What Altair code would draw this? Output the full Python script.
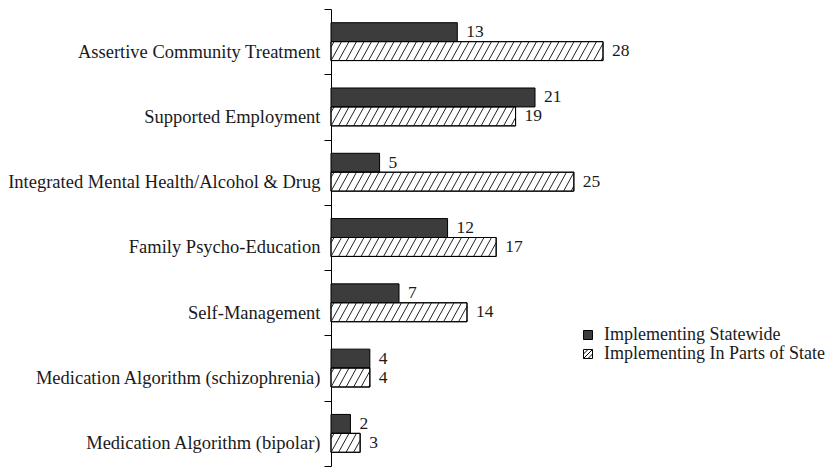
import json
import altair as alt
import pandas as pd

# ---- data ----
CATEGORIES = [
    "Assertive Community Treatment",
    "Supported Employment",
    "Integrated Mental Health/Alcohol & Drug",
    "Family Psycho-Education",
    "Self-Management",
    "Medication Algorithm (schizophrenia)",
    "Medication Algorithm (bipolar)",
]
STATEWIDE = [13, 21, 5, 12, 7, 4, 2]
PARTS = [28, 19, 25, 17, 14, 4, 3]
SERIES = ["Implementing Statewide", "Implementing In Parts of State"]

# ---- layout / style ----
WIDTH, HEIGHT = 272, 457
XMAX = 28
PAD = 0.21            # empty fraction of each band above/below the bar pair
DARK = "#3c3c3c"
FONT = "Liberation Serif"
TXT = "#1a1a1a"
N = len(CATEGORIES)

rows = []
for i, (c, s, p) in enumerate(zip(CATEGORIES, STATEWIDE, PARTS)):
    rows.append(dict(cat=c, series=SERIES[0], value=s, zero=0,
                     y=i + PAD, y2=i + 0.5, ymid=i + (PAD + 0.5) / 2))
    rows.append(dict(cat=c, series=SERIES[1], value=p, zero=0,
                     y=i + 0.5, y2=i + 1 - PAD, ymid=i + (1.5 - PAD) / 2))
bars = pd.DataFrame(rows)

# hatch stripes for the "parts of state" bars (derived from PARTS)
px_per_unit = WIDTH / XMAX
band_px = HEIGHT / N
bar_h_px = (0.5 - PAD) * band_px
dx = 0.55 * bar_h_px / px_per_unit
step = 7.5 / px_per_unit
stripes = []
for i, v in enumerate(PARTS):
    yb, yt = i + 1 - PAD, i + 0.5
    a = -dx + step * 0.4
    while a < v:
        t0 = max(0.0, -a / dx)
        t1 = min(1.0, (v - a) / dx)
        if t1 > t0:
            stripes.append(dict(x=a + t0 * dx, x2=a + t1 * dx,
                                y=yb - t0 * (yb - yt), y2=yb - t1 * (yb - yt)))
        a += step
stripes = pd.DataFrame(stripes)

xs = alt.Scale(domain=[0, XMAX], nice=False, zero=True)
ys = alt.Scale(domain=[0, N], nice=False, zero=False, reverse=True)
fill_scale = alt.Scale(domain=SERIES, range=[DARK, "white"])
HATCH = "M-1,-1H1V1H-1Z M-1,0L0,-1 M-1,1L1,-1 M0,1L1,0"
shape_scale = alt.Scale(domain=SERIES, range=["square", HATCH])

label_expr = "datum.value < %d ? %s[datum.value] : ''" % (N, json.dumps(CATEGORIES))

legend_kw = dict(title=None, orient="none", legendX=248, legendY=317,
                 labelFont=FONT, labelFontSize=18, labelColor=TXT,
                 labelOffset=7, rowPadding=1, padding=0, symbolSize=81,
                 labelLimit=0,
                 symbolStrokeColor="black", symbolStrokeWidth=1)

bar_layer = alt.Chart(bars).mark_rect(stroke="black", strokeWidth=1).encode(
    x=alt.X("zero:Q", scale=xs, axis=None),
    x2="value:Q",
    y=alt.Y("y:Q", scale=ys, axis=alt.Axis(
        values=list(range(N + 1)), labelExpr=label_expr, labelOffset=42,
        tickSize=7, tickColor="black", domainColor="black", grid=False,
        title=None, labelFont=FONT, labelFontSize=18.5, labelColor=TXT,
        labelPadding=4, labelOverlap=False, labelBound=False, labelFlush=False,
        labelLimit=0)),
    y2="y2:Q",
    fill=alt.Fill("series:N", scale=fill_scale, legend=alt.Legend(**legend_kw)),
)

stripe_layer = alt.Chart(stripes).mark_rule(color="#222", strokeWidth=1).encode(
    x=alt.X("x:Q", scale=xs), x2="x2:Q",
    y=alt.Y("y:Q", scale=ys), y2="y2:Q",
)

outline_layer = alt.Chart(bars).transform_filter(
    alt.datum.series == SERIES[1]
).mark_rect(fillOpacity=0, stroke="black", strokeWidth=1).encode(
    x=alt.X("zero:Q", scale=xs), x2="value:Q",
    y=alt.Y("y:Q", scale=ys), y2="y2:Q",
)

text_layer = alt.Chart(bars).mark_text(
    align="left", baseline="middle", dx=9, font=FONT, fontSize=17.5, color=TXT
).encode(
    x=alt.X("value:Q", scale=xs),
    y=alt.Y("ymid:Q", scale=ys),
    text="value:Q",
)

legend_layer = alt.Chart(bars).transform_filter("false").mark_point(
    filled=True, size=81, stroke="black", strokeWidth=1, opacity=1
).encode(
    x=alt.X("value:Q", scale=xs),
    y=alt.Y("ymid:Q", scale=ys),
    fill=alt.Fill("series:N", scale=fill_scale, legend=alt.Legend(**legend_kw)),
    shape=alt.Shape("series:N", scale=shape_scale, legend=alt.Legend(**legend_kw)),
)

chart = alt.layer(bar_layer, stripe_layer, outline_layer, text_layer, legend_layer).properties(
    width=WIDTH, height=HEIGHT,
    autosize=alt.AutoSizeParams(type="none"),
    padding={"left": 323, "top": 1, "right": 226, "bottom": 1},
).configure_view(stroke=None)

chart.save("out.html", embed_options={"renderer": "svg", "actions": False})
